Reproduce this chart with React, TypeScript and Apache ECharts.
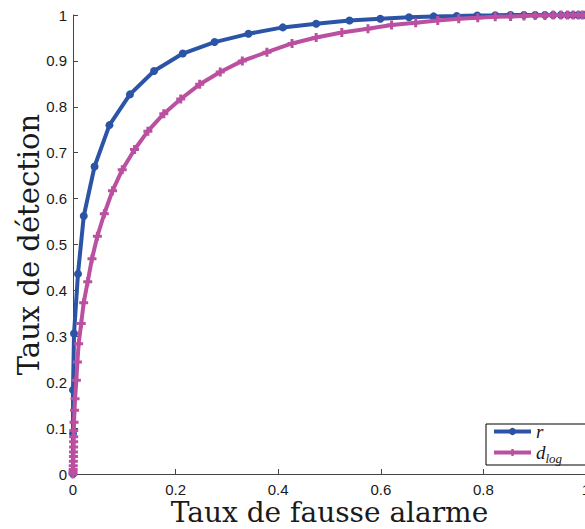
import React, { useEffect, useRef } from "react";
import * as echarts from "echarts";

// Series r
const rFalseAlarm = [0, 0, 0, 0.002, 0.0097, 0.021, 0.042, 0.071, 0.111, 0.158, 0.214, 0.276, 0.342, 0.409, 0.474, 0.539, 0.599, 0.655, 0.703, 0.748, 0.788, 0.823, 0.853, 0.879, 0.901, 0.92, 0.936, 0.951, 0.964, 0.975, 0.985, 0.993, 1];
const rDetection = [0, 0.088, 0.183, 0.306, 0.436, 0.562, 0.67, 0.76, 0.827, 0.878, 0.916, 0.941, 0.959, 0.973, 0.981, 0.988, 0.992, 0.995, 0.997, 0.998, 0.999, 0.9995, 1, 1, 1, 1, 1, 1, 1, 1, 1, 1, 1];

// Series d_log
const dFalseAlarm = [0, 0, 0.0003, 0.0005, 0.0007, 0.0009, 0.001, 0.0012, 0.0013, 0.0014, 0.0015, 0.002, 0.003, 0.004, 0.0066, 0.0086, 0.011, 0.016, 0.0208, 0.0287, 0.037, 0.0475, 0.061, 0.077, 0.096, 0.12, 0.146, 0.177, 0.21, 0.247, 0.287, 0.33, 0.378, 0.427, 0.474, 0.524, 0.575, 0.621, 0.668, 0.711, 0.752, 0.789, 0.823, 0.853, 0.879, 0.901, 0.92, 0.936, 0.951, 0.964, 0.975, 0.985, 0.993, 1];
const dDetection = [0, 0.004, 0.01, 0.018, 0.028, 0.038, 0.048, 0.059, 0.07, 0.081, 0.095, 0.113, 0.139, 0.164, 0.204, 0.244, 0.284, 0.328, 0.373, 0.419, 0.469, 0.518, 0.567, 0.617, 0.663, 0.707, 0.747, 0.785, 0.817, 0.849, 0.876, 0.9, 0.919, 0.938, 0.951, 0.962, 0.97, 0.978, 0.983, 0.988, 0.992, 0.994, 0.996, 0.997, 0.998, 0.999, 0.999, 1, 1, 1, 1, 1, 1, 1];

const seriesNames = ["r", "dlog"];
const xTitle = "Taux de fausse alarme";
const yTitle = "Taux de détection";

const BLUE = "#2c54a6";
const MAGENTA = "#bb50a0";
const AXIS = "#444";
const TXT = "#1a1a1a";
const SERIF = "'Liberation Serif', 'DejaVu Serif', serif";
const TITLE_SERIF = "'DejaVu Serif', 'Liberation Serif', serif";
const SANS = "'Liberation Sans', Arial, sans-serif";

const starPath = "path://M3,0 H6 V3 H9 V6 H6 V9 H3 V6 H0 V3 H3 Z";

export default function App() {
  const ref = useRef<HTMLDivElement>(null);
  useEffect(() => {
    if (!ref.current) return;
    const chart = echarts.init(ref.current, undefined, { renderer: "svg" });
    const axisCommon = {
      type: "value" as const,
      min: 0,
      max: 1,
      axisLine: { show: true, lineStyle: { color: AXIS, width: 1 } },
      axisTick: { show: true, inside: true, length: 5, lineStyle: { color: AXIS } },
      splitLine: { show: false },
      nameLocation: "middle" as const,
      nameMoveOverlap: false,
    };
    chart.setOption({
      animation: false,
      backgroundColor: "#fff",
      grid: { left: 73, top: 15, width: 513, height: 459, containLabel: false, outerBoundsMode: "none" },
      xAxis: {
        ...axisCommon,
        interval: 0.2,
        name: xTitle,
        nameGap: 27,
        nameTextStyle: { fontFamily: TITLE_SERIF, fontSize: 28, color: TXT, lineHeight: 22 },
        axisLabel: { fontFamily: SANS, fontSize: 15, color: TXT, margin: 8 },
      },
      yAxis: {
        ...axisCommon,
        interval: 0.1,
        name: yTitle,
        nameGap: 32,
        nameTextStyle: { fontFamily: TITLE_SERIF, fontSize: 29, color: TXT, lineHeight: 24 },
        axisLabel: { fontFamily: SANS, fontSize: 15, color: TXT, margin: 6 },
      },
      legend: {
        left: 486,
        top: 424,
        orient: "vertical",
        padding: [-2, 30, 0, 6],
        itemGap: -1,
        itemWidth: 37,
        itemHeight: 9,
        lineStyle: { width: 4 },
        borderColor: "#000",
        borderWidth: 1,
        borderRadius: 0,
        backgroundColor: "#fff",
        data: seriesNames,
        formatter: (name: string) => (name === "dlog" ? "{i|d}{s|log}" : "{i|r}"),
        textStyle: {
          color: TXT,
          rich: {
            i: { fontFamily: SERIF, fontStyle: "italic", fontSize: 19, color: TXT, lineHeight: 18 },
            s: { fontFamily: SERIF, fontStyle: "italic", fontSize: 13, color: TXT, padding: [12, 0, 0, 0], lineHeight: 6 },
          },
        },
      },
      series: [
        {
          name: seriesNames[0],
          type: "line",
          data: rFalseAlarm.map((x, i) => [x, rDetection[i]]),
          symbol: "circle",
          symbolSize: 8,
          showSymbol: true,
          lineStyle: { color: BLUE, width: 4 },
          itemStyle: { color: BLUE },
          z: 2,
        },
        {
          name: seriesNames[1],
          type: "line",
          data: dFalseAlarm.map((x, i) => [x, dDetection[i]]),
          symbol: starPath,
          symbolSize: 9,
          showSymbol: true,
          lineStyle: { color: MAGENTA, width: 4 },
          itemStyle: { color: MAGENTA },
          z: 3,
        },
      ],
    });
    return () => chart.dispose();
  }, []);
  return <div ref={ref} style={{ position: "fixed", left: 0, top: 0, width: 585, height: 529 }} />;
}
